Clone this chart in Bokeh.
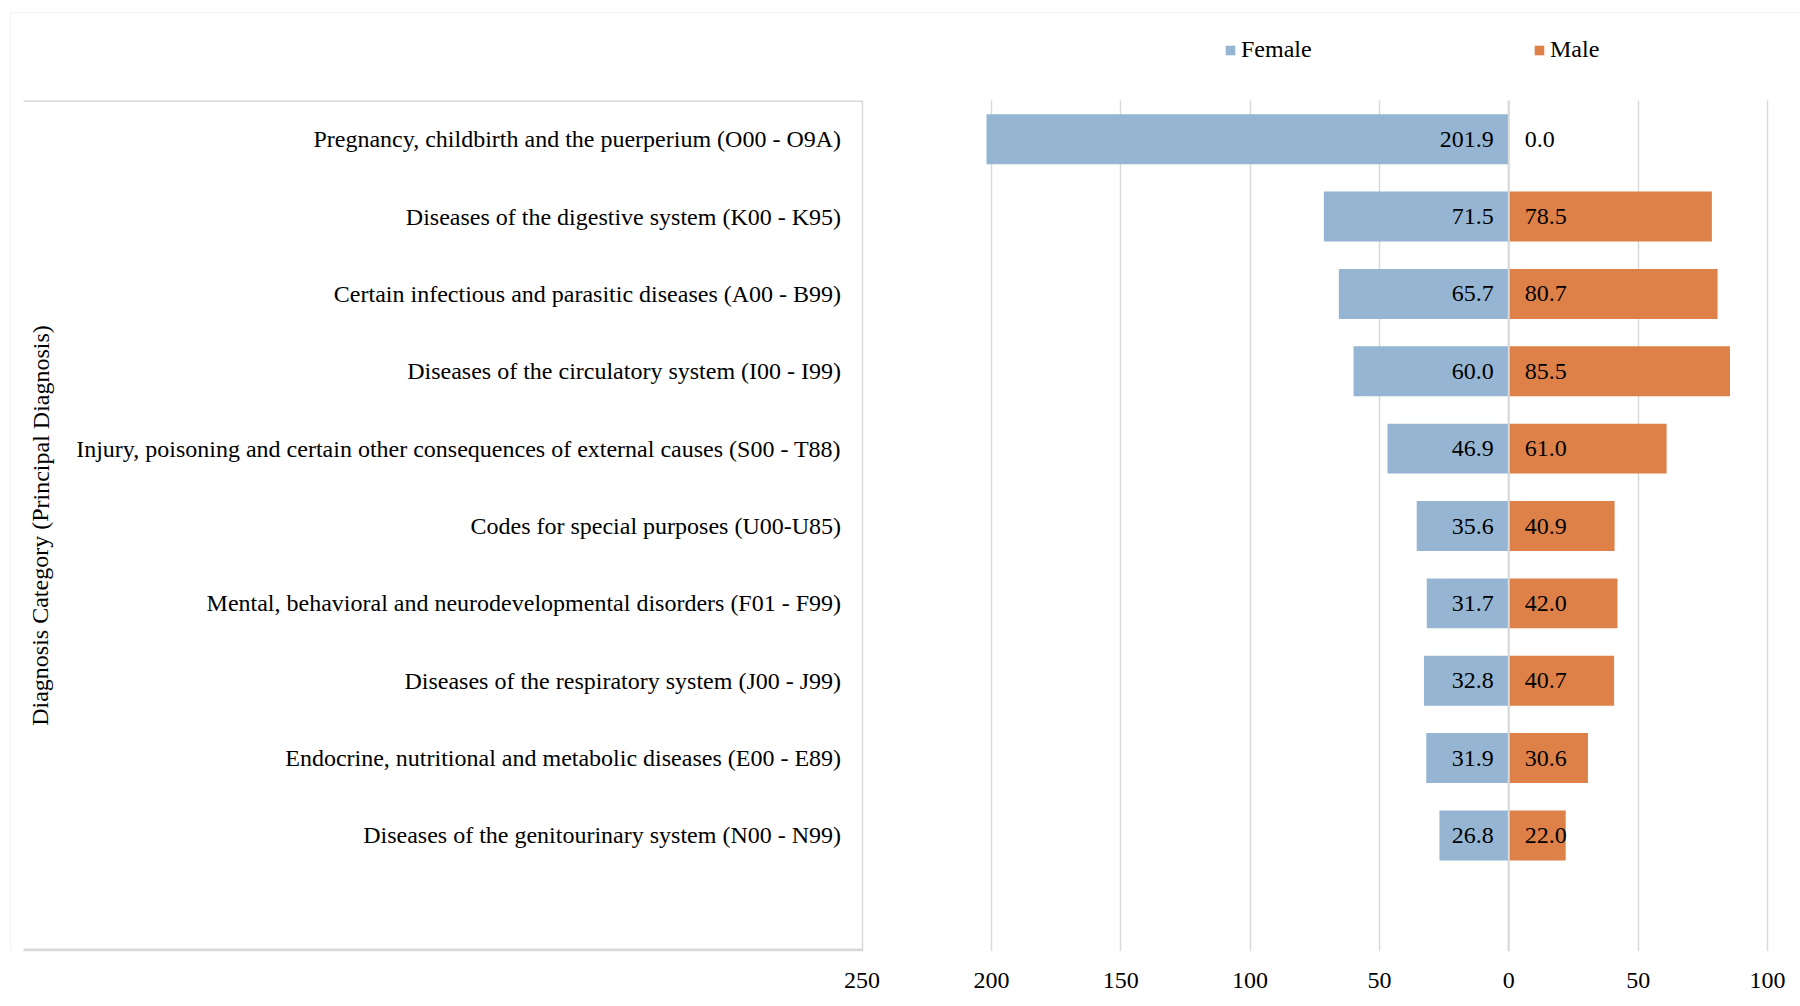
from bokeh.plotting import figure
from bokeh.models import (Range1d, FixedTicker, CustomJSTickFormatter, ColumnDataSource,
                          BoxAnnotation, Label, Legend, LegendItem, Span)
from bokeh.core.properties import value
from bokeh.embed import file_html
from bokeh.resources import INLINE

categories = [
    "Pregnancy, childbirth and the puerperium (O00 - O9A)",
    "Diseases of the digestive system (K00 - K95)",
    "Certain infectious and parasitic diseases (A00 - B99)",
    "Diseases of the circulatory system (I00 - I99)",
    "Injury, poisoning and certain other consequences of external causes (S00 - T88)",
    "Codes for special purposes (U00-U85)",
    "Mental, behavioral and neurodevelopmental disorders (F01 - F99)",
    "Diseases of the respiratory system (J00 - J99)",
    "Endocrine, nutritional and metabolic diseases (E00 - E89)",
    "Diseases of the genitourinary system (N00 - N99)",
]
female = [201.9, 71.5, 65.7, 60.0, 46.9, 35.6, 31.7, 32.8, 31.9, 26.8]
male = [0.0, 78.5, 80.7, 85.5, 61.0, 40.9, 42.0, 40.7, 30.6, 22.0]
x_ticks = [-250, -200, -150, -100, -50, 0, 50, 100]
y_title = "Diagnosis Category (Principal Diagnosis)"

FEMALE_C = "#95B5D3"
MALE_C = "#DE8149"
GRID_C = "#D9D9D9"
FONT = "Liberation Serif"
FS = "24px"

W, H = 1800, 1006
# frame placement (canvas pixels)
FL, FT, FR, FB = 5, 5, 1800, 951
PLOT_TOP = 100                      # top of the gridded plot area
X0_PX, PX_PER_UNIT = 1508.3, 2.587   # position of zero and scale
ROW_PX = (FB - PLOT_TOP) / 11.0

x_min = -(X0_PX - FL) / PX_PER_UNIT
x_max = (FR - X0_PX) / PX_PER_UNIT
y_bot = 10.5
y_top = -0.5 - (PLOT_TOP - FT) / ROW_PX

def px_to_x(px):
    return x_min + (px - FL) / PX_PER_UNIT

def px_to_y(py):
    return y_top + (py - FT) / ROW_PX

src = ColumnDataSource(dict(
    cat=categories,
    y=list(range(len(categories))),
    fneg=[-v for v in female],
    male=male,
    flab=[f"{v:.1f}" for v in female],
    mlab=[f"{v:.1f}" for v in male],
))

p = figure(width=W, height=H, output_backend="svg", toolbar_location=None,
           title=None,
           x_range=Range1d(x_min, x_max), y_range=Range1d(y_bot, y_top),
           y_axis_location=None,
           min_border_left=FL, min_border_right=W - FR,
           min_border_top=FT, min_border_bottom=H - FB)
p.outline_line_color = None
p.background_fill_color = "white"
p.border_fill_color = "white"

# x axis
p.xaxis.ticker = FixedTicker(ticks=x_ticks)
p.xaxis.formatter = CustomJSTickFormatter(code="return Math.abs(tick).toFixed(0);")
p.xaxis.axis_line_color = None
p.xaxis.major_tick_line_color = None
p.xaxis.minor_tick_line_color = None
p.xaxis.major_label_text_font = FONT
p.xaxis.major_label_text_font_size = FS
p.xaxis.major_label_text_color = "black"
p.xaxis.major_label_standoff = 15
p.xgrid.grid_line_color = GRID_C
p.xgrid.grid_line_width = 1.5
p.ygrid.visible = False

rf = p.hbar(y="y", left="fneg", right=0, height=0.646, source=src,
            fill_color=FEMALE_C, line_color=None)
rm = p.hbar(y="y", left=0, right="male", height=0.646, source=src,
            fill_color=MALE_C, line_color=None)

p.add_layout(Span(location=0, dimension="height", line_color=GRID_C, line_width=2))

# white cover above the gridded area (legend region)
p.add_layout(BoxAnnotation(left=x_min - 100, right=x_max + 100, top=y_top - 5, bottom=-0.5,
                           fill_color="white", fill_alpha=1, line_color=None))

# category label box: top edge and heavier bottom edge (right edge is the 250 gridline)
p.add_layout(BoxAnnotation(left=px_to_x(23), right=-250, top=-0.5, bottom=px_to_y(101.5),
                           fill_color=GRID_C, fill_alpha=1, line_color=None))
p.add_layout(BoxAnnotation(left=px_to_x(23), right=-250, top=px_to_y(948), bottom=y_bot,
                           fill_color=GRID_C, fill_alpha=1, line_color=None))

# outer chart border
p.add_layout(BoxAnnotation(left=px_to_x(10), right=x_max + 100, top=px_to_y(12), bottom=y_bot + 5,
                           fill_color=None, fill_alpha=0,
                           line_color=GRID_C, line_width=1))

p.text(x=-250, y="y", text="cat", source=src, x_offset=-21,
       text_align="right", text_baseline="middle",
       text_font=value(FONT), text_font_size=FS, text_color="black")
p.text(x=0, y="y", text="flab", source=src, x_offset=-15,
       text_align="right", text_baseline="middle",
       text_font=value(FONT), text_font_size=FS, text_color="black")
p.text(x=0, y="y", text="mlab", source=src, x_offset=16,
       text_align="left", text_baseline="middle",
       text_font=value(FONT), text_font_size=FS, text_color="black")

# y title
p.add_layout(Label(x=40, y=525, x_units="canvas", y_units="canvas", text=y_title,
                   angle=1.5707963, text_align="center", text_baseline="middle",
                   text_font=FONT, text_font_size=FS, text_color="black"))

def mk_legend(label, r, loc):
    return Legend(items=[LegendItem(label=label, renderers=[r])], location=loc,
                  orientation="horizontal", padding=0, margin=0,
                  border_line_color=None, background_fill_alpha=0,
                  glyph_width=12, glyph_height=12, label_standoff=5,
                  label_text_font=FONT, label_text_font_size=FS,
                  label_text_color="black")

p.add_layout(mk_legend("Female", rf, (1224 - FL, FB - 63)))
p.add_layout(mk_legend("Male", rm, (1533 - FL, FB - 63)))

open("out.html", "w").write(file_html(p, INLINE))
